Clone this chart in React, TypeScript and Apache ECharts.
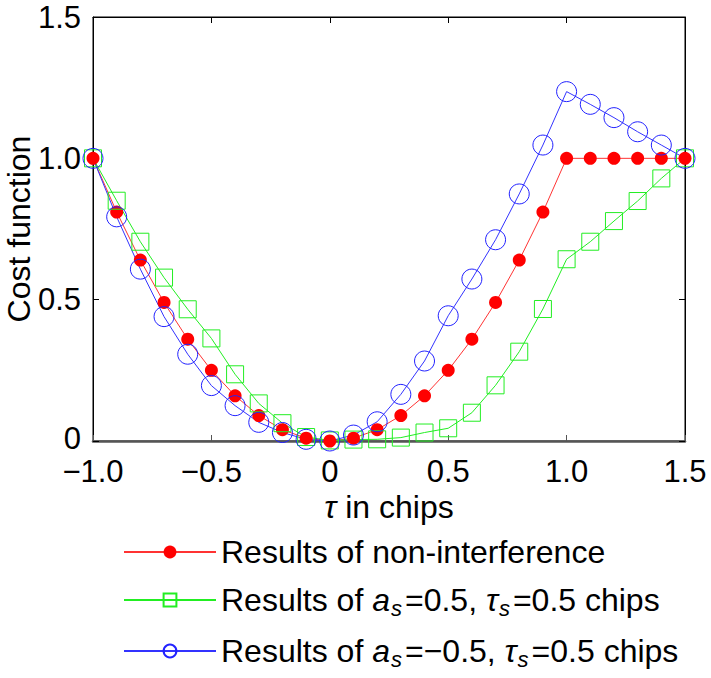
import React, { useEffect, useRef } from "react";
import * as echarts from "echarts";

const tau = [-1.0, -0.9, -0.8, -0.7, -0.6, -0.5, -0.4, -0.3, -0.2, -0.1, 0.0, 0.1, 0.2, 0.3, 0.4, 0.5, 0.6, 0.7, 0.8, 0.9, 1.0, 1.1, 1.2, 1.3, 1.4, 1.5];
const nonInterference = [1.0, 0.81, 0.64, 0.49, 0.36, 0.25, 0.16, 0.09, 0.04, 0.01, 0.0, 0.01, 0.04, 0.09, 0.16, 0.25, 0.36, 0.49, 0.64, 0.81, 1.0, 1.0, 1.0, 1.0, 1.0, 1.0];
const posInterference = [1.0, 0.85, 0.705, 0.578, 0.466, 0.363, 0.236, 0.133, 0.063, 0.014, 0.002, 0.005, 0.006, 0.012, 0.03, 0.045, 0.1, 0.197, 0.316, 0.467, 0.643, 0.705, 0.778, 0.849, 0.929, 1.0];
const negInterference = [1.0, 0.793, 0.608, 0.44, 0.307, 0.196, 0.125, 0.066, 0.03, 0.006, 0.0, 0.021, 0.068, 0.165, 0.283, 0.443, 0.573, 0.712, 0.874, 1.047, 1.236, 1.191, 1.144, 1.094, 1.047, 1.0];
const seriesNames = ["nonInt", "pos", "neg"];

const FONT = "Liberation Sans, Arial, sans-serif";
const FS = 32;
const TFS = 31;

const pairs = (ys: number[]) => tau.map((t, i) => [t, ys[i]]);
const fmt = (v: number) => {
  if (v === 0) return "0";
  const s = Math.abs(v).toFixed(1);
  return v < 0 ? "\u2212" + s : s;
};
const fmtY = (v: number) => (v === 0 ? "{z|0}" : fmt(v));

export default function App() {
  const ref = useRef<HTMLDivElement>(null);
  useEffect(() => {
    if (!ref.current) return;
    const chart = echarts.init(ref.current, undefined, { renderer: "svg" });
    const rich = {
      n: { fontSize: FS, fontFamily: FONT, color: "#000", lineHeight: 38 },
      i: { fontSize: FS, fontFamily: FONT, color: "#000", fontStyle: "italic", lineHeight: 38 },
      sub: { fontSize: 22, fontFamily: FONT, color: "#000", fontStyle: "italic", verticalAlign: "bottom", lineHeight: 22, padding: [15, 3, 0, 1] },
    };
    const legendText: Record<string, string> = {
      nonInt: "{n|Results of non-interference}",
      pos: "{n|Results of }{i|a}{sub|s}{n|=0.5, }{i|\u03c4}{sub|s}{n|=0.5 chips}",
      neg: "{n|Results of }{i|a}{sub|s}{n|=\u22120.5, }{i|\u03c4}{sub|s}{n|=0.5 chips}",
    };
    chart.setOption({
      animation: false,
      backgroundColor: "#fff",
      grid: { left: 93, right: 26, top: 17, bottom: 237, show: true, borderColor: "#000", borderWidth: 1, backgroundColor: "transparent", outerBoundsMode: "none", containLabel: false },
      legend: {
        orient: "vertical",
        left: 118,
        top: 531,
        itemWidth: 92,
        itemHeight: 16,
        itemGap: 14,
        data: seriesNames,
        formatter: (name: string) => legendText[name],
        textStyle: { rich, padding: [0, 0, 0, 0] },
      },
      xAxis: [
        {
          type: "value", min: -1, max: 1.5, interval: 0.5,
          name: "{i|\u03c4}{n| in chips}", nameLocation: "middle", nameGap: 47, nameMoveOverlap: false,
          nameTextStyle: { rich },
          axisLine: { show: true, onZero: false, lineStyle: { color: "#555", width: 2.5 } },
          axisTick: { show: true, inside: true, length: 6, lineStyle: { color: "#555" } },
          axisLabel: { formatter: fmt, fontSize: TFS, fontFamily: FONT, color: "#000", margin: 16, lineHeight: 28 },
          splitLine: { show: false },
        },
        {
          type: "value", min: -1, max: 1.5, interval: 0.5, position: "top",
          axisLine: { show: true, onZero: false, lineStyle: { color: "#000", width: 1 } },
          axisTick: { show: true, inside: true, length: 6, lineStyle: { color: "#000" } },
          axisLabel: { show: false }, splitLine: { show: false },
        },
      ],
      yAxis: [
        {
          type: "value", min: 0, max: 1.5, interval: 0.5,
          name: "Cost function", nameLocation: "middle", nameGap: 58, nameMoveOverlap: false,
          nameTextStyle: { fontSize: FS, fontFamily: FONT, color: "#000" },
          axisLine: { show: true, onZero: false, lineStyle: { color: "#000", width: 1 } },
          axisTick: { show: true, inside: true, length: 6, lineStyle: { color: "#000" } },
          axisLabel: {
            formatter: fmtY, fontSize: TFS, fontFamily: FONT, color: "#000", margin: 12, lineHeight: 26,
            rich: { z: { fontSize: TFS, fontFamily: FONT, color: "#000", lineHeight: 24, padding: [0, 0, 5, 0] } },
          },
          splitLine: { show: false },
        },
        {
          type: "value", min: 0, max: 1.5, interval: 0.5, position: "right",
          axisLine: { show: true, onZero: false, lineStyle: { color: "#000", width: 1 } },
          axisTick: { show: true, inside: true, length: 6, lineStyle: { color: "#000" } },
          axisLabel: { show: false }, splitLine: { show: false },
        },
      ],
      series: [
        {
          name: "nonInt", type: "line", data: pairs(nonInterference),
          symbol: "circle", symbolSize: 13,
          itemStyle: { color: "#ff0000" },
          lineStyle: { color: "#ff3333", width: 1 },
        },
        {
          name: "pos", type: "line", data: pairs(posInterference),
          symbol: "rect", symbolSize: 17,
          itemStyle: { color: "rgba(0,0,0,0)", borderColor: "#22ee22", borderWidth: 1 },
          lineStyle: { color: "#22ee22", width: 1 },
        },
        {
          name: "neg", type: "line", data: pairs(negInterference),
          symbol: "circle", symbolSize: 20,
          itemStyle: { color: "rgba(0,0,0,0)", borderColor: "#2222ff", borderWidth: 1 },
          lineStyle: { color: "#3333ff", width: 1 },
        },
      ],
    });
    return () => chart.dispose();
  }, []);
  return <div ref={ref} style={{ width: 711, height: 678, position: "absolute", left: 0, top: 0 }} />;
}
